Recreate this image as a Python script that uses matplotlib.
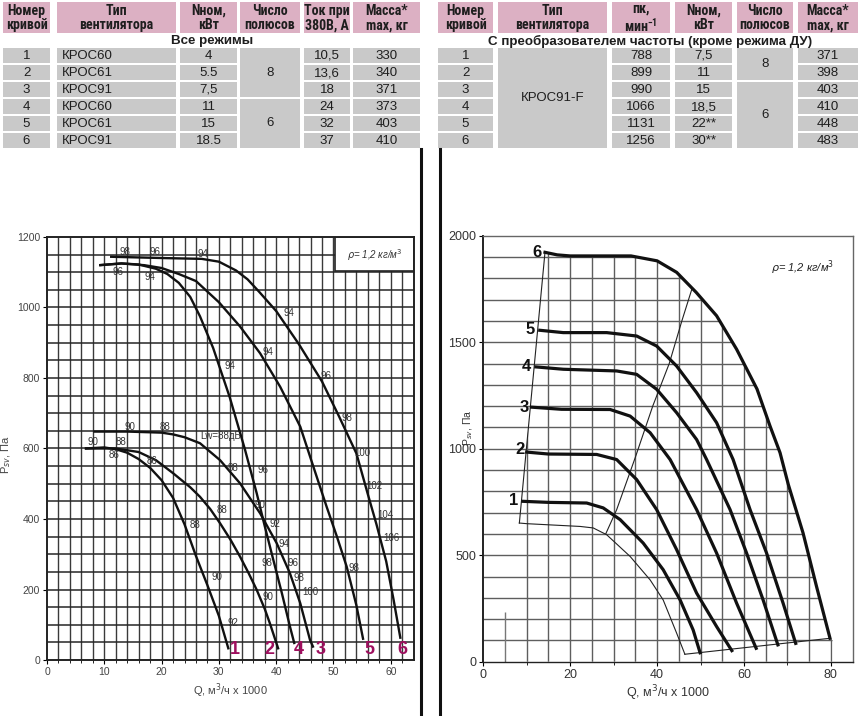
import numpy as np
import matplotlib.pyplot as plt
from matplotlib import font_manager
from matplotlib.patches import Rectangle, Polygon

plt.rcParams['font.family'] = ['Liberation Sans', 'DejaVu Sans']

# ---------------- tables ----------------
hdr_left = ["Номер\nкривой", "Тип\nвентилятора", "Nном,\nкВт", "Число\nполюсов",
            "Ток при\n380В, А", "Масса*\nmax, кг"]
hdr_right = ["Номер\nкривой", "Тип\nвентилятора", "пк,\nмин$^{\\mathdefault{-1}}$", "Nном,\nкВт",
             "Число\nполюсов", "Масса*\nmax, кг"]
title_left = "Все режимы"
title_right = "С преобразователем частоты (кроме режима ДУ)"

curve_no = ["1", "2", "3", "4", "5", "6"]
left_type = ["КРОС60", "КРОС61", "КРОС91", "КРОС60", "КРОС61", "КРОС91"]
left_power = ["4", "5.5", "7,5", "11", "15", "18.5"]
left_poles = ["8", "6"]
left_current = ["10,5", "13,6", "18", "24", "32", "37"]
left_mass = ["330", "340", "371", "373", "403", "410"]

right_type = "КРОС91-F"
right_rpm = ["788", "899", "990", "1066", "1131", "1256"]
right_power = ["7,5", "11", "15", "18,5", "22**", "30**"]
right_poles = ["8", "6"]
right_mass = ["371", "398", "403", "410", "448", "483"]

# ---------------- left chart: Q (x1000 m3/h), P (Pa) ----------------
lq = [[6.6, 10, 12, 14, 16, 18, 20, 22, 24, 26, 28, 30, 31.7],
      [6.6, 12, 16, 19, 22, 25, 26.7, 28.5, 30.2, 32, 33.7, 35.2, 36.6, 38, 38.9, 40.4],
      [8.1, 14, 20, 22, 24, 26.7, 30.2, 33.7, 37.2, 40.1, 42.4, 44.2, 45.9, 46.5],
      [9.1, 13, 16, 19, 21, 23, 25, 26.7, 29, 31.9, 34.5, 36.6, 38, 39.5, 41, 42.4, 43.2],
      [9.1, 13, 17, 20, 23, 26, 30, 33.7, 37.2, 40.7, 44.2, 46.5, 48.8, 50.6, 52.3, 54, 55.2],
      [11, 16, 21, 27, 30, 33, 35, 37, 40, 44, 48, 51, 54, 56, 57.5, 59.2, 60.5, 61.7]]
lp = [[600, 603, 598, 588, 570, 545, 510, 460, 385, 295, 212, 125, 30],
      [600, 600, 590, 567, 530, 490, 463, 428, 388, 342, 293, 246, 199, 145, 104, 30],
      [648, 648, 645, 640, 632, 615, 567, 501, 416, 331, 246, 161, 57, 35],
      [1120, 1125, 1122, 1110, 1095, 1070, 1030, 975, 885, 745, 600, 473, 380, 284, 189, 95, 45],
      [1120, 1125, 1120, 1112, 1095, 1075, 1015, 946, 870, 775, 662, 548, 435, 350, 265, 155, 57],
      [1144, 1142, 1140, 1138, 1130, 1105, 1080, 1045, 990, 895, 790, 690, 586, 470, 385, 280, 170, 60]]
left_end_q = [32.8, 38.8, 47.8, 44.0, 56.2, 62.1]

# sound power levels along the curves
lw_txt = ["98", "96", "94", "96", "94", "94", "94", "94", "96", "98", "100",
          "90", "88", "90", "88", "86", "86", "88", "96", "88", "90", "92", "94",
          "96", "98", "102", "104", "106", "88", "98", "98", "100", "90", "90", "92"]
lw_q = [13.6, 18.8, 27.3, 12.4, 18.0, 42.3, 38.6, 31.9, 48.7, 52.4, 55.1,
        14.5, 20.6, 8.1, 12.9, 11.7, 18.3, 32.5, 37.7, 30.5, 37.1, 39.8, 41.4,
        43.0, 38.3, 57.2, 59.0, 60.2, 25.8, 53.6, 44.0, 45.9, 38.5, 29.6, 32.5]
lw_p = [1158, 1158, 1151, 1102, 1087, 983, 874, 833, 805, 686, 588,
        662, 660, 619, 619, 582, 565, 544, 540, 425, 440, 385, 328,
        276, 274, 493, 411, 345, 383, 260, 232, 192, 180, 236, 104]

# ---------------- right chart ----------------
rq = [[9.1, 15, 23.8, 27.6, 31.5, 36.8, 41.4, 45.3, 48.3, 49.9],
      [10, 15, 26.1, 30.7, 35.3, 39.9, 44.5, 49.1, 53.7, 57.2],
      [11.1, 18, 29.2, 33.8, 38.4, 43, 49.1, 53.7, 58.3, 62.8],
      [12.1, 18.4, 30.7, 35.3, 39.9, 44.5, 49.1, 51.4, 56.8, 60.6, 64.4, 67.8],
      [13, 18.4, 28.4, 35.3, 39.9, 44.5, 49.1, 53.7, 57.5, 61.4, 65.2, 69, 71.9],
      [14.2, 17, 20, 34, 40, 44.5, 49, 53.7, 58.3, 63, 66, 68.3, 70.2, 73.6, 76.7, 79.8]]
rp = [[753, 748, 745, 722, 667, 557, 432, 290, 149, 42],
      [984, 975, 973, 949, 855, 714, 526, 322, 165, 52],
      [1195, 1185, 1184, 1153, 1075, 949, 714, 510, 275, 63],
      [1384, 1373, 1365, 1349, 1279, 1169, 1043, 949, 714, 510, 290, 79],
      [1556, 1545, 1545, 1529, 1482, 1388, 1263, 1122, 949, 714, 510, 275, 86],
      [1922, 1910, 1905, 1905, 1882, 1828, 1734, 1624, 1467, 1280, 1106, 981, 832, 604, 353, 110]]
min_q = [8.3, 10, 22.3, 25.3, 28.4, 33.8, 38.4, 41.4, 44.5, 46.4]
min_p = [651, 648, 635, 628, 596, 494, 384, 290, 134, 35]
left_bound_q = [8.3, 14.2]
left_bound_p = [651, 1922]
base_q = [46.4, 79.8]
base_p = [35, 110]
diag_q = [28.2, 30.7, 35, 37, 39, 42.8, 45.7, 48]
diag_p = [601, 714, 960, 1080, 1200, 1400, 1600, 1749]
right_lbl_q = [6.9, 8.4, 9.4, 10.0, 10.7, 12.3]
right_lbl_p = [758, 996, 1195, 1388, 1561, 1922]

W, H = 863, 716
fig = plt.figure(figsize=(W / 100, H / 100), dpi=100)

# a narrow face for the table headers, if one is installed
names = {f.name for f in font_manager.fontManager.ttflist}
narrow = [n for n in ['Liberation Sans Narrow', 'Arial Narrow', 'Roboto Condensed',
                      'Open Sans Condensed', 'DejaVu Sans Condensed'] if n in names]
hdr_family = narrow[:1] + ['Liberation Sans', 'DejaVu Sans']
hdr_size = 10 if narrow else 8.3


def frame(x0, y0, x1, y1):
    return [x0 / W, 1 - y1 / H, (x1 - x0) / W, (y1 - y0) / H]


top = fig.add_axes([0, 0, 1, 1])
top.set_xlim(0, W)
top.set_ylim(H, 0)
top.axis('off')

PINK = '#dcb0c3'
GREY = '#c9c9c9'
TXT = '#1e1e1e'
row_y = [48 + 17 * i for i in range(6)]
ROW_H = 15


def box(x0, x1, y0, y1, color):
    top.add_patch(Rectangle((x0, y0), x1 - x0, y1 - y0, fc=color, ec='none'))


def table(cols, hdr, title, title_x):
    for (x0, x1), h in zip(cols, hdr):
        box(x0, x1, 2, 33, PINK)
        top.text((x0 + x1) / 2, 18, h, ha='center', va='center', fontsize=hdr_size,
                 fontweight='bold', color=TXT, linespacing=1.05, family=hdr_family)
    top.text(title_x, 41, title, ha='center', va='center', fontsize=9.6,
             fontweight='bold', color=TXT)


def cells(x0, x1, vals, ha='center', dx=0):
    for y, v in zip(row_y, vals):
        box(x0, x1, y, y + ROW_H, GREY)
        xt = (x0 + x1) / 2 if ha == 'center' else x0 + dx
        top.text(xt, y + ROW_H / 2 + 0.5, v, ha=ha, va='center', fontsize=9.5, color=TXT)


def merged(x0, x1, r0, r1, val):
    y0, y1 = row_y[r0], row_y[r1] + ROW_H
    box(x0, x1, y0, y1, GREY)
    top.text((x0 + x1) / 2, (y0 + y1) / 2, val, ha='center', va='center',
             fontsize=9.5, color=TXT)


lc = [(3, 50), (57, 176), (180, 237), (240, 300), (304, 350), (353, 420)]
table(lc, hdr_left, title_left, 212)
cells(*lc[0], curve_no)
cells(*lc[1], left_type, ha='left', dx=5)
cells(*lc[2], left_power)
merged(*lc[3], 0, 2, left_poles[0])
merged(*lc[3], 3, 5, left_poles[1])
cells(*lc[4], left_current)
cells(*lc[5], left_mass)

rc = [(438, 493), (498, 607), (612, 670), (675, 732), (737, 793), (798, 858)]
table(rc, hdr_right, title_right, 650)
cells(*rc[0], curve_no)
merged(*rc[1], 0, 5, right_type)
cells(*rc[2], right_rpm)
cells(*rc[3], right_power)
merged(*rc[4], 0, 1, right_poles[0])
merged(*rc[4], 2, 5, right_poles[1])
cells(*rc[5], right_mass)

# separators
for xs in (420.7, 440):
    top.plot([xs, xs], [149, H], color='#111', lw=2.2)

# ---------------- left chart ----------------
axL = fig.add_axes(frame(47, 237, 413.7, 660))
axL.set_xlim(0, 64)
axL.set_ylim(0, 1200)
axL.vlines(np.arange(2, 64, 2), 0, 1200, color='#3a3a3a', lw=1.0, zorder=1)
axL.hlines(np.arange(50, 1200, 50), 0, 64, color='#262626', lw=1.1, zorder=1)
axL.add_patch(Rectangle((50.3, 1103), 13.7, 97, fc='white', ec='#222', lw=1.2, zorder=2))
axL.text(57.2, 1150, r'$\rho$= 1,2 кг/м$^3$', ha='center', va='center', fontsize=7,
         style='italic', color='#333', zorder=3)
for q, p in zip(lq, lp):
    axL.plot(q, p, color='#111', lw=1.7, zorder=3, solid_capstyle='butt')
for t, q, p in zip(lw_txt, lw_q, lw_p):
    axL.text(q, p, t, ha='center', va='center', fontsize=7, color='#333', zorder=4)
axL.text(26.7, 636, 'Lw=88дБ', ha='left', va='center', fontsize=7, color='#333', zorder=4)
for n, q in zip(curve_no, left_end_q):
    axL.text(q, 30, n, ha='center', va='center', fontsize=13, fontweight='bold',
             color='#9e0f5e', zorder=5)
axL.set_xticks(range(0, 61, 10))
axL.set_xticks(np.arange(0, 64, 2), minor=True)
axL.set_yticks(range(0, 1201, 200))
axL.tick_params(labelsize=7.5, labelcolor='#444', length=3, width=0.8, pad=2)
axL.tick_params(which='minor', length=2, width=0.6)
for s in axL.spines.values():
    s.set_linewidth(1.4)
    s.set_color('#222')
axL.set_xlabel('Q, м$^3$/ч x 1000', fontsize=8, color='#444', labelpad=3)
axL.set_ylabel('P$_{sv}$, Па', fontsize=8, color='#444')
axL.yaxis.set_label_coords(-0.094, 0.485)

# ---------------- right chart ----------------
axR = fig.add_axes(frame(483.3, 235.7, 852.6, 661.7))
axR.set_xlim(0, 85)
axR.set_ylim(0, 2000)
c6q, c6p = rq[5], rp[5]
hpoly = Polygon([(0, 0), (0, c6p[0])] + list(zip(c6q, c6p)) + [(80.4, 100), (80.4, 0)],
                closed=True, transform=axR.transData)
vpoly = Polygon([(5.3, 0)] + list(zip(left_bound_q, left_bound_p)) + list(zip(c6q, c6p))
                + [(80.4, 100), (80.4, 0)], closed=True, transform=axR.transData)
hl = axR.hlines(np.arange(100, 2000, 100), 0, 85, color='#5e5e5e', lw=1.0, zorder=1)
hl.set_clip_path(hpoly)
vl = axR.vlines(np.arange(10, 85, 5), 0, 2000, color='#5e5e5e', lw=1.0, zorder=1)
vl.set_clip_path(vpoly)
axR.vlines([5], 0, 235, color='#777', lw=1.0, zorder=1)
for q, p in zip(rq, rp):
    axR.plot(q, p, color='#111', lw=2.3, zorder=3)
axR.plot(min_q, min_p, color='#222', lw=0.8, zorder=2)
axR.plot(left_bound_q, left_bound_p, color='#222', lw=0.8, zorder=2)
axR.plot(base_q, base_p, color='#222', lw=0.8, zorder=2)
axR.plot(diag_q, diag_p, color='#222', lw=0.8, zorder=2)
for n, q, p in zip(curve_no, right_lbl_q, right_lbl_p):
    axR.text(q, p, n, ha='center', va='center', fontsize=12, fontweight='bold',
             color='#111', zorder=5)
axR.text(73.5, 1851, r'$\rho$= 1,2 кг/м$^3$', ha='center', va='center', fontsize=8,
         style='italic', color='#222')
axR.set_xticks(range(0, 81, 20))
axR.set_xticks(range(0, 81, 10), minor=True)
axR.set_yticks(range(0, 2001, 500))
axR.tick_params(labelsize=9, labelcolor='#333', length=3, width=0.8, pad=2)
axR.tick_params(which='minor', length=2)
for s in axR.spines.values():
    s.set_linewidth(1.0)
    s.set_color('#666')
axR.spines['left'].set_color('#222')
axR.spines['left'].set_linewidth(1.4)
axR.spines['bottom'].set_color('#222')
axR.set_xlabel('Q, м$^3$/ч x 1000', fontsize=9, color='#333', labelpad=2)
axR.set_ylabel('P$_{sv}$, Па', fontsize=7.5, color='#333')
axR.yaxis.set_label_coords(-0.022, 0.548)

fig.savefig('out.png', dpi=100)
